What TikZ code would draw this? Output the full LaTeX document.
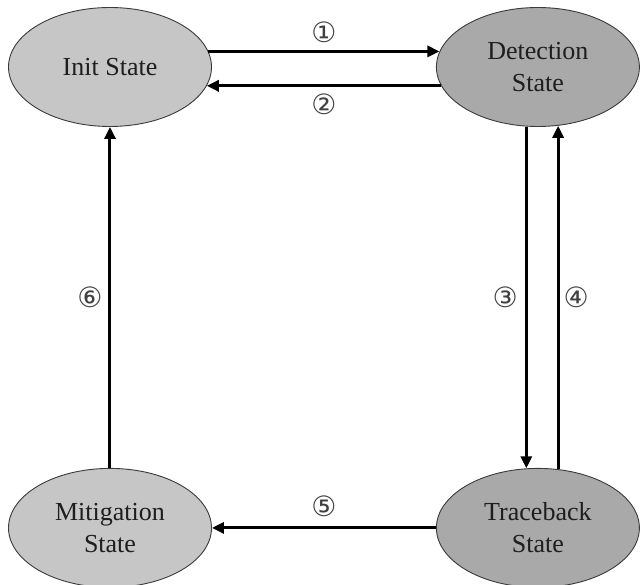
\documentclass[tikz,border=0pt]{standalone}
\usepackage{fontspec}
\setmainfont{Liberation Serif}
\newfontfamily\circfont{DejaVu Sans}
\usepackage{tikz}
\usetikzlibrary{arrows.meta,positioning,shapes.geometric}
\definecolor{StLight}{HTML}{C6C6C6}
\definecolor{StDark}{HTML}{A9A9A9}
\definecolor{StEdge}{HTML}{3A3A3A}
\definecolor{StText}{HTML}{1E1E1E}

\begin{document}
\begin{tikzpicture}[
    state/.style={ellipse,draw=StEdge,line width=0.9pt,inner sep=0pt,
      minimum width=203pt,minimum height=119pt,align=center,text=StText,
      font=\fontsize{26}{32}\selectfont},
    light/.style={state,fill=StLight},
    dark/.style={state,fill=StDark},
    flow/.style={-{Triangle[length=12pt,width=11pt]},line width=3pt,draw=black},
    num/.style={font=\circfont\fontsize{28}{28}\selectfont,text=black!75,inner sep=0pt}
  ]
    \useasboundingbox (-110pt,67pt) rectangle (530pt,-518pt);
    \node[light] (init) {Init State};
    \node[dark,right=224pt of init] (detect) {Detection\\State};
    \node[light,below=341pt of init] (mitig) {Mitigation\\State};
    \node[dark,below=341pt of detect] (trace) {Traceback\\State};
    \draw[flow] (init.9) -- node[num,above=7pt] (n1) {①} (detect.171);
    \draw[flow] (detect.191) -- node[num,below=7pt] (n2) {②} (init.-11);
    \draw[flow] (detect.259) -- node[num,left=7pt] (n3) {③} (trace.101);
    \draw[flow] (trace.71) -- node[num,right=4pt] (n4) {④} (detect.289);
    \draw[flow] (trace.west) -- node[num,above=10pt] (n5) {⑤} (mitig.east);
    \draw[flow] (mitig.north) -- node[num,left=6pt] (n6) {⑥} (init.south);
\end{tikzpicture}
\end{document}
